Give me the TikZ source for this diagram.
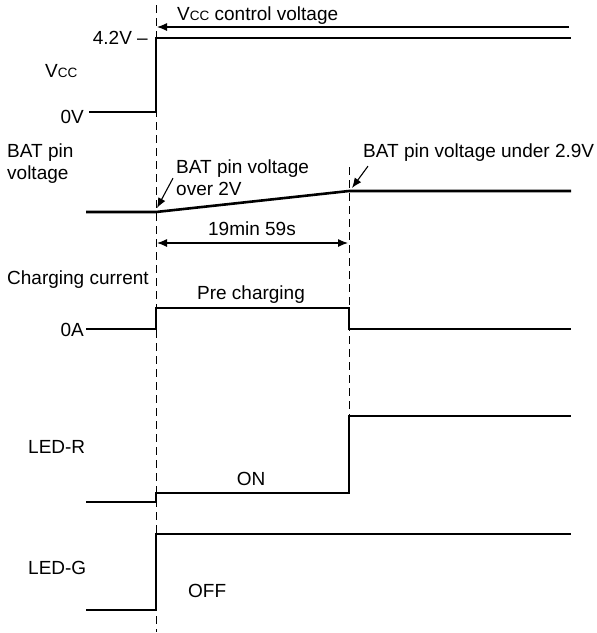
\documentclass[tikz,border=0pt]{standalone}
\usepackage{fontspec}
\setmainfont{Liberation Sans}
\usetikzlibrary{arrows.meta}

\newcommand{\vcc}{V{\fontsize{13.5}{13.5}\selectfont CC}}

\begin{document}
\begin{tikzpicture}[x=1pt,y=-1pt,
  font=\fontsize{19}{22}\selectfont,
  wave/.style={line width=2.6pt},
  guide/.style={line width=1pt, dash pattern=on 8pt off 5pt},
  note/.style={line width=1.1pt, -{Latex[length=10pt,width=8pt]}},
  span/.style={line width=1.1pt, {Latex[length=10pt,width=8pt]}-{Latex[length=10pt,width=8pt]}},
  lbl/.style={inner sep=0pt}]

\useasboundingbox (0,0) rectangle (597,633);

% Column positions
\def\xL{86}   % waveforms start
\def\xA{156}  % first edge
\def\xB{349}  % end of pre charging
\def\xR{571}  % waveforms end

% Dashed guides
\draw[guide] (\xA,5) -- (\xA,632);
\draw[guide] (\xB,167) -- (\xB,416);

% Vcc
\node[lbl, anchor=base west] (vcclbl) at (45,77) {\vcc};
\node[lbl, anchor=base east] (vhigh) at (148,44) {4.2V --};
\node[lbl, anchor=base east] (vlow) at (84,123) {0V};
\draw[wave] (\xL+3,112) -- (\xA,112) -- (\xA,38) -- (\xR,38);
\node[lbl, anchor=base west] (ctl) at (177,20) {\vcc{} control voltage};
\coordinate (ctlR) at (569,27);
\coordinate (ctlL) at (157,27);
\draw[note] (ctlR) -- (ctlL);

% BAT pin voltage
\node[lbl, anchor=north west, align=left] (batlbl) at (7,144) {BAT pin\\voltage};
\draw[wave] (\xL,212) -- (\xA,212) -- (\xB,191) -- (\xR,191);
\node[lbl, anchor=north west, align=left] (batover) at (176,160) {BAT pin voltage\\over 2V};
\coordinate (tipA) at (157,208);
\draw[note] ([xshift=-3pt]batover.west) -- (tipA);
\node[lbl, anchor=base west] (batunder) at (363,157) {BAT pin voltage under 2.9V};
\coordinate (tipB) at (352,188);
\draw[note] ([xshift=5pt,yshift=-5pt]batunder.south west) -- (tipB);

% Pre charging time
\coordinate (durL) at (157,243);
\coordinate (durR) at (348,243);
\draw[span] (durL) -- (durR);
\node[lbl, anchor=base] (dur) at (252,235) {19min 59s};

% Charging current
\node[lbl, anchor=base west] (chglbl) at (7,284) {Charging current};
\node[lbl, anchor=base east] (zeroA) at (84,336) {0A};
\draw[wave] (\xL,329) -- (\xA,329) -- (\xA,308) -- (\xB,308) -- (\xB,329) -- (\xR,329);
\node[lbl, anchor=base] (pre) at (251,299) {Pre charging};

% LED-R
\node[lbl, anchor=base west] (ledr) at (28,453) {LED-R};
\draw[wave] (\xL,502) -- (\xA,502) -- (\xA,493) -- (\xB,493) -- (\xB,416) -- (\xR,416);
\node[lbl, anchor=base] (on) at (251,485) {ON};

% LED-G
\node[lbl, anchor=base west] (ledg) at (28,574) {LED-G};
\draw[wave] (\xL,610) -- (\xA,610) -- (\xA,534) -- (\xR,534);
\node[lbl, anchor=base west] (off) at (188,597) {OFF};

\end{tikzpicture}
\end{document}
